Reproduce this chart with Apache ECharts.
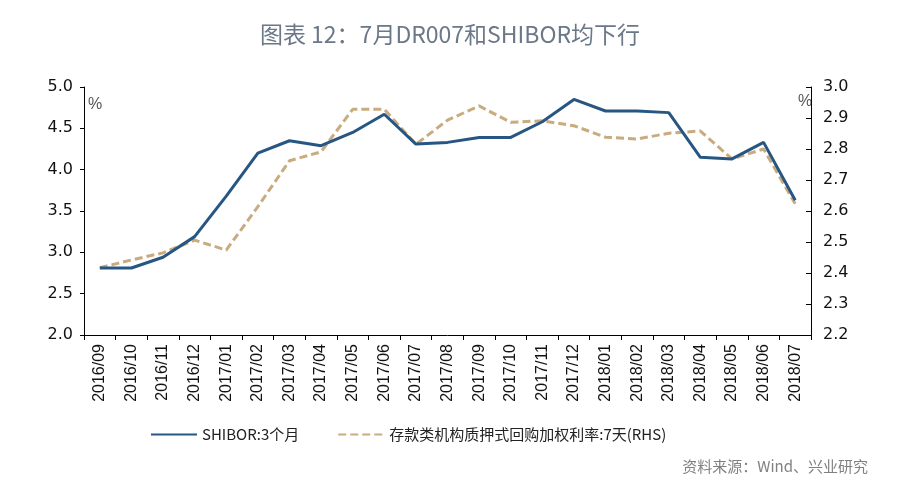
<!DOCTYPE html>
<html>
<head>
<meta charset="utf-8">
<script src="https://cdn.jsdelivr.net/npm/echarts@6/dist/echarts.min.js"></script>
<style>
html,body{margin:0;padding:0;background:#fff;}
#c{width:900px;height:498px;}
</style>
</head>
<body>
<div id="c"></div>
<script>
const categories = ['2016/09','2016/10','2016/11','2016/12','2017/01','2017/02','2017/03','2017/04','2017/05','2017/06','2017/07','2017/08','2017/09','2017/10','2017/11','2017/12','2018/01','2018/02','2018/03','2018/04','2018/05','2018/06','2018/07'];
const shibor3m = [2.81,2.81,2.94,3.19,3.68,4.20,4.35,4.29,4.45,4.67,4.31,4.33,4.39,4.39,4.58,4.85,4.71,4.71,4.69,4.15,4.13,4.33,3.63];
const dr007 = [2.417,2.442,2.465,2.506,2.474,2.614,2.762,2.791,2.928,2.928,2.815,2.893,2.939,2.886,2.891,2.875,2.838,2.832,2.851,2.858,2.768,2.800,2.623];
const leftTicks = {min:2.0, max:5.0, interval:0.5};
const rightTicks = {min:2.2, max:3.0, interval:0.1};
const seriesNames = ['SHIBOR:3个月','存款类机构质押式回购加权利率:7天(RHS)'];
const titleText = '图表 12：7月DR007和SHIBOR均下行';
const sourceText = '资料来源：Wind、兴业研究';

const chart = echarts.init(document.getElementById('c'), null, {renderer:'canvas'});
const cjk = '"Noto Sans CJK SC", sans-serif';
chart.setOption({
  animation:false,
  backgroundColor:'#ffffff',
  title:{
    text:titleText, left:'center', top:18,
    textStyle:{fontFamily:cjk, fontSize:23, fontWeight:'normal', color:'#6b7888'}
  },
  legend:{
    left:145, top:422, itemWidth:46, itemHeight:14, itemGap:38,
    itemStyle:{opacity:0},
    textStyle:{fontFamily:cjk, fontSize:15, color:'#222'},
    data:seriesNames
  },
  grid:{left:84, right:89, top:87, bottom:163},
  xAxis:{
    type:'category', data:categories, boundaryGap:true,
    axisLine:{lineStyle:{color:'#000', width:1}},
    axisTick:{show:true, inside:false, length:5, lineStyle:{color:'#000'}},
    axisLabel:{rotate:90, margin:9, fontFamily:'"Liberation Sans", Arial, sans-serif', fontSize:16, color:'#111', interval:0}
  },
  yAxis:[
    {
      type:'value', position:'left', min:leftTicks.min, max:leftTicks.max, interval:leftTicks.interval,
      splitLine:{show:false},
      axisLine:{show:true, lineStyle:{color:'#000'}},
      axisTick:{show:true, inside:false, length:4, lineStyle:{color:'#000'}},
      axisLabel:{margin:11, fontFamily:'"DejaVu Sans", sans-serif', fontSize:16, color:'#111', formatter:v=>v.toFixed(1)}
    },
    {
      type:'value', position:'right', min:rightTicks.min, max:rightTicks.max, interval:rightTicks.interval,
      splitLine:{show:false},
      axisLine:{show:true, lineStyle:{color:'#000'}},
      axisTick:{show:true, inside:true, length:5, lineStyle:{color:'#000'}},
      axisLabel:{margin:12, fontFamily:'"DejaVu Sans", sans-serif', fontSize:16, color:'#111', formatter:v=>v.toFixed(1)}
    }
  ],
  graphic:[
    {type:'text', left:88, top:97, style:{text:'%', fontSize:16, fontFamily:'"Liberation Sans", sans-serif', fill:'#555'}},
    {type:'text', left:798, top:94, style:{text:'%', fontSize:16, fontFamily:'"Liberation Sans", sans-serif', fill:'#555'}},
    {type:'text', right:32, top:459, style:{text:sourceText, fontSize:15, fontFamily:cjk, fill:'#808080'}}
  ],
  series:[
    {
      name:seriesNames[0], type:'line', yAxisIndex:0, data:shibor3m,
      symbol:'none', z:3,
      lineStyle:{color:'#265681', width:3},
      itemStyle:{color:'#265681'}
    },
    {
      name:seriesNames[1], type:'line', yAxisIndex:1, data:dr007,
      symbol:'none', z:2,
      lineStyle:{color:'#c9ab80', width:3, type:[8,4]},
      itemStyle:{color:'#c9ab80'}
    }
  ]
});
</script>
</body>
</html>
